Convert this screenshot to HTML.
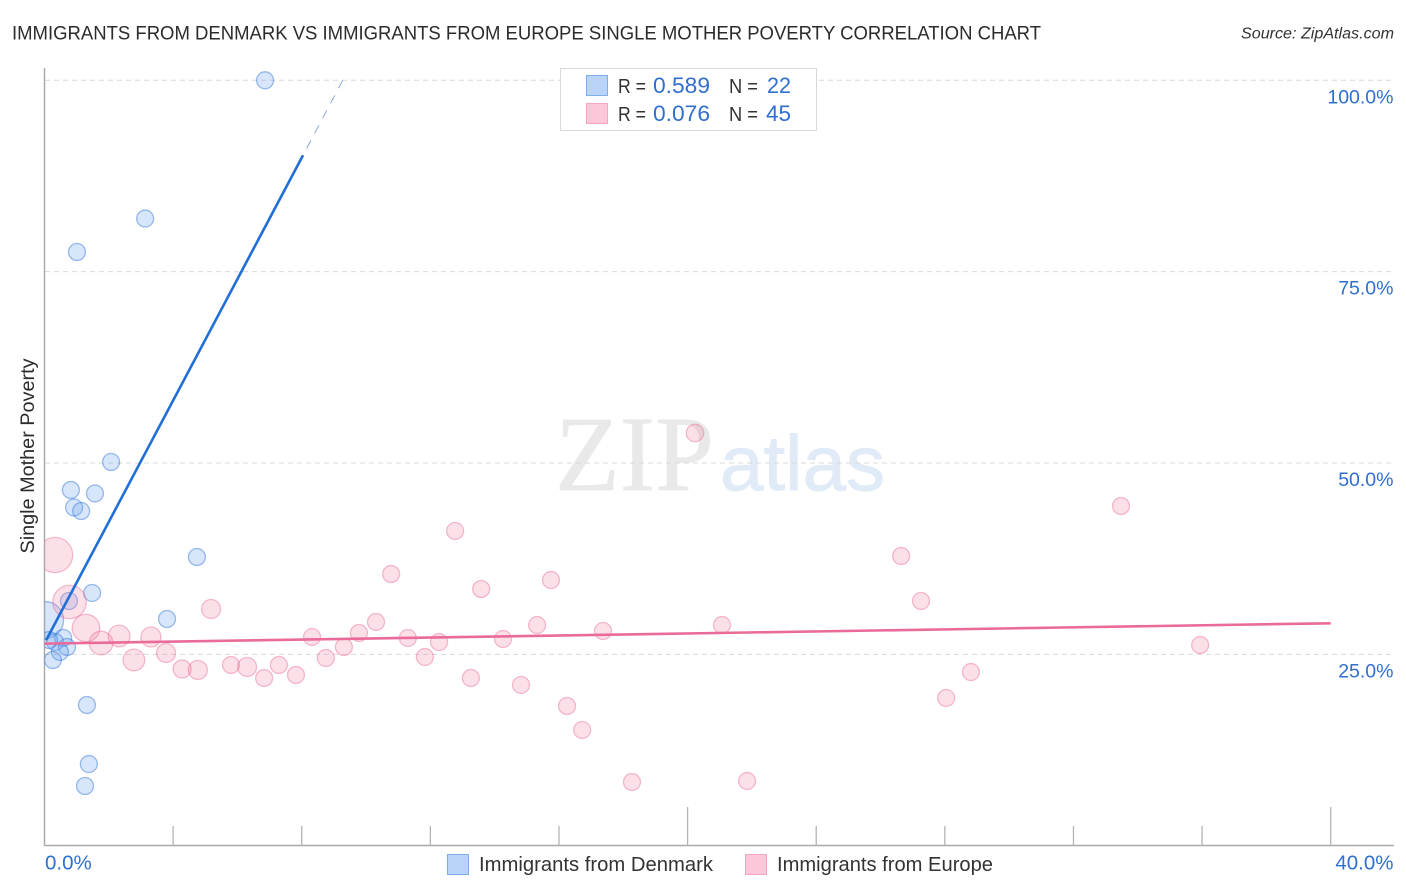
<!DOCTYPE html>
<html lang="en">
<head>
<meta charset="utf-8">
<title>Immigrants from Denmark vs Immigrants from Europe Single Mother Poverty Correlation Chart</title>
<style>
html,body{margin:0;padding:0;background:#fff;width:1406px;height:892px;overflow:hidden}
svg{display:block}
text{font-family:"Liberation Sans",sans-serif}
</style>
</head>
<body>
<svg id="chart" xmlns="http://www.w3.org/2000/svg" width="1406" height="892" viewBox="0 0 1406 892">
  <defs>
    <clipPath id="plot-clip"><rect x="44.5" y="60" width="1350" height="785"/></clipPath>
  </defs>
  <rect x="0" y="0" width="1406" height="892" fill="#ffffff"/>
  <text x="12" y="39.5" font-size="19.5" fill="#2b2b2b" textLength="1029" lengthAdjust="spacingAndGlyphs">IMMIGRANTS FROM DENMARK VS IMMIGRANTS FROM EUROPE SINGLE MOTHER POVERTY CORRELATION CHART</text>
  <text x="1241" y="38.5" font-size="15.5" font-style="italic" fill="#333333" textLength="153" lengthAdjust="spacingAndGlyphs">Source: ZipAtlas.com</text>

  <g>
    <text x="555" y="490" font-size="107" fill="#e9e9e9" stroke="#e9e9e9" stroke-width="0.7" textLength="159" lengthAdjust="spacingAndGlyphs" style="font-family:'Liberation Serif',serif">ZIP</text>
    <text x="720" y="490" font-size="78" fill="#e1ebf7" stroke="#e1ebf7" stroke-width="0.9" textLength="165" lengthAdjust="spacingAndGlyphs">atlas</text>
  </g>

  <g id="grid"></g>
  <g id="axes"></g>
  <g id="points-denmark" clip-path="url(#plot-clip)"></g>
  <g id="points-europe" clip-path="url(#plot-clip)"></g>
  <g id="trends"></g>
  <g id="y-labels"></g>
  <g id="x-labels"></g>

  <text transform="translate(34,456) rotate(-90)" text-anchor="middle" font-size="19" fill="#2b2b2b" textLength="195" lengthAdjust="spacingAndGlyphs">Single Mother Poverty</text>

  <g>
    <rect x="560.5" y="68.5" width="256" height="62" fill="#ffffff" stroke="#d9d9d9" stroke-width="1"/>
    <rect x="586.5" y="75.5" width="21" height="20" fill="#b9d4f8" stroke="#7daee8" stroke-width="1"/>
    <rect x="586.5" y="103.5" width="21" height="20" fill="#fcc8d9" stroke="#f4a6c0" stroke-width="1"/>
    <text x="618" y="93" font-size="20" fill="#333333" textLength="28" lengthAdjust="spacingAndGlyphs">R =</text>
    <text x="653" y="93" font-size="22" fill="#2f6fd0" textLength="57" lengthAdjust="spacingAndGlyphs">0.589</text>
    <text x="729" y="93" font-size="20" fill="#333333" textLength="29" lengthAdjust="spacingAndGlyphs">N =</text>
    <text x="767" y="93" font-size="22" fill="#2f6fd0" textLength="24" lengthAdjust="spacingAndGlyphs">22</text>
    <text x="618" y="121" font-size="20" fill="#333333" textLength="28" lengthAdjust="spacingAndGlyphs">R =</text>
    <text x="653" y="121" font-size="22" fill="#2f6fd0" textLength="57" lengthAdjust="spacingAndGlyphs">0.076</text>
    <text x="729" y="121" font-size="20" fill="#333333" textLength="29" lengthAdjust="spacingAndGlyphs">N =</text>
    <text x="766" y="121" font-size="22" fill="#2f6fd0" textLength="25" lengthAdjust="spacingAndGlyphs">45</text>
  </g>

  <g>
    <g>
      <rect x="447.5" y="854.5" width="21" height="20" fill="#b9d4f8" stroke="#7daee8" stroke-width="1"/>
      <text x="479" y="871" font-size="20" fill="#333333" textLength="234" lengthAdjust="spacingAndGlyphs">Immigrants from Denmark</text>
    </g>
    <g>
      <rect x="745.5" y="854.5" width="21" height="20" fill="#fcc8d9" stroke="#f4a6c0" stroke-width="1"/>
      <text x="777" y="871" font-size="20" fill="#333333" textLength="216" lengthAdjust="spacingAndGlyphs">Immigrants from Europe</text>
    </g>
  </g>
</svg>

<script>
// ---- Chart data ----
const denmarkX = [6.86,3.13,1.01,2.07,0.82,1.57,0.92,1.14,4.74,1.48,0.76,3.81,0.02,0.58,0.33,0.70,0.48,0.26,1.32,1.38,1.26,0.14];
const denmarkY = [100,81.94,77.57,50.13,46.47,46.02,44.19,43.73,37.72,33.02,31.97,29.62,29.49,27.14,26.61,25.96,25.31,24.26,18.38,10.67,7.80,26.87];
const denmarkWeight = [72,72,72,72,72,72,72,72,72,72,72,72,340,72,72,72,72,72,72,72,72,72];

const europeX = [0.33,0.78,1.29,1.76,2.32,2.78,3.31,3.78,4.28,4.77,5.18,5.80,6.30,6.83,7.29,7.82,8.32,8.75,9.31,9.78,10.31,10.78,11.30,11.83,12.27,12.77,13.26,13.58,14.26,14.82,15.32,15.75,16.25,16.72,17.37,18.27,20.23,21.07,21.85,26.64,27.26,28.04,28.81,33.48,35.94];
const europeY = [37.98,31.84,28.44,26.48,27.40,24.26,27.27,25.18,23.09,22.96,30.93,23.61,23.35,21.91,23.61,22.30,27.27,24.52,25.96,27.79,29.23,35.50,27.14,24.65,26.61,41.12,21.91,33.54,27.01,21.00,28.83,34.71,18.25,15.12,28.05,8.32,53.92,28.83,8.45,37.85,31.97,19.30,22.69,44.38,26.22];
const europeWeight = [310,280,190,140,118,118,100,90,81,90,90,72,90,72,72,72,72,72,72,72,72,72,72,72,72,72,72,72,72,72,72,72,72,72,72,72,76,72,72,72,72,72,72,72,72];

const denmarkTrend = [26.45, 7.93];
const denmarkTrendSolidEnd = 8.04;
const europeTrend = [26.4, 0.0665];
const europeTrendEnd = 40;

const xTickValues = [0,4,8,12,16,20,24,28,32,36,40];
const xMajorTicks = [0,20,40];
const xTickLabels = ['0.0%','40.0%'];
const xTickLabelValues = [0,40];
const yTickValues = [25,50,75,100];
const yTickLabels = ['25.0%','50.0%','75.0%','100.0%'];

// ---- Axis functions ----
function xScale(v){ return 44.5 + v * 32.155; }
function yScale(v){ return 845.7 - v * 7.654; }
function rScale(w){ return Math.sqrt(w); }

const NS = 'http://www.w3.org/2000/svg';
function make(tag, parentId, attrs){
  const el = document.createElementNS(NS, tag);
  for (const k in attrs) el.setAttribute(k, attrs[k]);
  document.getElementById(parentId).appendChild(el);
  return el;
}

// Gridlines and y labels
yTickValues.forEach(function(v, i){
  const line = make('line', 'grid', {x1:45, x2:1393, y1:yScale(v), y2:yScale(v), stroke:'#d9d9d9', 'stroke-width':1, 'stroke-dasharray':'5 4'});
  
  
  const label = make('text', 'y-labels', {x:1393.5, y:yScale(v)+23, 'text-anchor':'end', 'font-size':19.5, fill:'#2f6fd0'});
  label.textContent = yTickLabels[i];
  
  
});

// Axes
const yAxisLine = make('line', 'axes', {x1:44.5, x2:44.5, y1:68, y2:845.5, stroke:'#aaaaaa', 'stroke-width':1.5});


const xAxisLine = make('line', 'axes', {x1:44, x2:1394, y1:845.5, y2:845.5, stroke:'#aaaaaa', 'stroke-width':1.5});



xTickValues.forEach(function(v){
  if (v === 0) return;
  const top = xMajorTicks.indexOf(v) >= 0 ? 807 : 826;
  const tick = make('line', 'axes', {x1:xScale(v), x2:xScale(v), y1:top, y2:845.5, stroke:'#b4b4b4', 'stroke-width':1.3});
  
  
});

xTickLabelValues.forEach(function(v, i){
  const anchorEnd = i === xTickLabelValues.length - 1;
  const label = make('text', 'x-labels', {x: anchorEnd ? 1393.5 : xScale(v)+0.5, y:869.5, 'text-anchor': anchorEnd ? 'end' : 'start', 'font-size':20.5, fill:'#2f6fd0'});
  label.textContent = xTickLabels[i];
  
  
});

// Points
denmarkX.forEach(function(v, i){
  const c = make('circle', 'points-denmark', {cx:xScale(v), cy:yScale(denmarkY[i]), r:rScale(denmarkWeight[i]), fill:'rgba(100,160,235,0.26)', stroke:'rgba(55,120,215,0.48)', 'stroke-width':1.3});
  
  
});
europeX.forEach(function(v, i){
  const c = make('circle', 'points-europe', {cx:xScale(v), cy:yScale(europeY[i]), r:rScale(europeWeight[i]), fill:'rgba(245,130,165,0.25)', stroke:'rgba(230,110,150,0.45)', 'stroke-width':1.3});
  
  
});

// Trend lines
function trendY(t, x){ return t[0] + t[1] * x; }
const denmarkSolid = make('line', 'trends', {x1:xScale(0.05), y1:yScale(trendY(denmarkTrend,0.05)), x2:xScale(denmarkTrendSolidEnd), y2:yScale(trendY(denmarkTrend,denmarkTrendSolidEnd)), stroke:'#1f6fd6', 'stroke-width':2.6});


const denmarkEndX = (100 - denmarkTrend[0]) / denmarkTrend[1];
const denmarkDash = make('line', 'trends', {x1:xScale(denmarkEndX), y1:yScale(100), x2:xScale(denmarkTrendSolidEnd), y2:yScale(trendY(denmarkTrend,denmarkTrendSolidEnd)), stroke:'#8aa6dc', 'stroke-width':1, 'stroke-dasharray':'9 8'});


const europeLine = make('line', 'trends', {x1:xScale(0), y1:yScale(trendY(europeTrend,0)), x2:xScale(europeTrendEnd), y2:yScale(trendY(europeTrend,europeTrendEnd)), stroke:'#ea6a9a', 'stroke-width':2.6});


</script>
</body>
</html>
